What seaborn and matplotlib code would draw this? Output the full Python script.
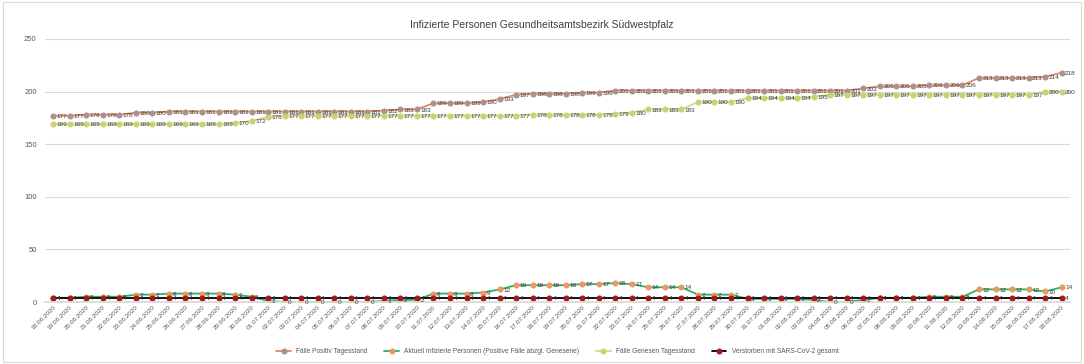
import datetime as dt

import matplotlib
matplotlib.use("Agg")
import matplotlib.pyplot as plt
import pandas as pd
import seaborn as sns

# --- data (18.06.2020 - 18.08.2020) ---
start = dt.date(2020, 6, 18)
dates = [(start + dt.timedelta(days=i)).strftime("%d.%m.%Y") for i in range(62)]

positiv = [177, 177, 178, 178, 178, 180, 180,
           181, 181, 181, 181, 181, 181, 181, 181, 181, 181, 181, 181, 181,
           182, 183, 183, 189, 189, 189, 190, 193, 197, 198, 198, 198, 199, 199,
           201, 201, 201, 201, 201, 201, 201, 201, 201, 201, 201, 201, 201, 201, 201,
           203, 205, 205, 205, 206, 206, 206, 213, 213, 213, 213, 214, 218]

aktuell = [4, 4, 5, 5, 5, 7, 7, 8, 8, 8, 8, 7, 5, 1,
           0, 0, 0, 0, 0, 0, 1, 2, 2, 8, 8, 8, 9, 12, 16, 16, 16, 16, 17, 17,
           18, 17, 14, 14, 14, 7, 7, 7, 3, 3, 3, 3, 2, 0, 0,
           2, 4, 4, 4, 5, 5, 5, 12, 12, 12, 12, 10, 14]

genesen = [169, 169, 169, 169, 169, 169, 169, 169, 169, 169, 169, 170, 172, 176,
           177, 177, 177, 177, 177, 177, 177, 177, 177, 177, 177, 177, 177, 177, 177,
           178, 178, 178, 178, 178, 179, 180, 183, 183, 183, 190, 190, 190,
           194, 194, 194, 194, 195,
           197, 197, 197, 197, 197, 197, 197, 197, 197, 197, 197, 197, 197, 200, 200]

verstorben = [4] * 62

series_names = ["Fälle Positiv Tagesstand",
                "Aktuell Infizierte Personen (Positive Fälle abzgl. Genesene)",
                "Fälle Genesen Tagesstand",
                "Verstorben mit SARS-CoV-2 gesamt"]
series_values = [positiv, aktuell, genesen, verstorben]

line_colors = ["#E58A5A", "#2FAE6E", "#CBDB8E", "#000000"]
marker_colors = ["#A8918F", "#EA9A5C", "#C8D36C", "#A11A1A"]

sns.set_theme(style="white")
plt.rcParams["font.family"] = ["Liberation Sans Narrow", "Liberation Sans", "DejaVu Sans"]

fig = plt.figure(figsize=(10.84, 3.64), dpi=100)
ax = fig.add_axes([0.0415, 0.1703, 0.9455, 0.7227])

for name, vals, lc, mc in zip(series_names, series_values, line_colors, marker_colors):
    df = pd.DataFrame({"x": range(len(dates)), "y": vals})
    sns.lineplot(data=df, x="x", y="y", ax=ax, color=lc, linewidth=1.3,
                 marker="o", markersize=3.6, markerfacecolor=mc,
                 markeredgecolor=mc, label=name)
    for i, v in enumerate(vals):
        ax.annotate(str(v), (i, v), xytext=(2.5, -0.5), textcoords="offset points",
                    fontsize=4.6, color="#3A3A3A", va="center", ha="left")

ax.set_xlim(-0.5, len(dates) - 0.5)
ax.set_ylim(0, 250)
ax.set_yticks(range(0, 251, 50))
ax.set_xticks(range(len(dates)))
ax.set_xticklabels(dates, rotation=45, ha="right", rotation_mode="anchor",
                   fontsize=4.6, color="#595959")
ax.tick_params(axis="y", labelsize=5.5, labelcolor="#595959", length=0, pad=6)
ax.tick_params(axis="x", length=0, pad=2)
ax.set_xlabel("")
ax.set_ylabel("")
ax.grid(axis="y", color="#D9D9D9", linewidth=0.8)
ax.grid(axis="x", visible=False)
for side in ["top", "right", "left"]:
    ax.spines[side].set_visible(False)
ax.spines["bottom"].set_color("#D9D9D9")
ax.set_axisbelow(True)

fig.suptitle("Infizierte Personen Gesundheitsamtsbezirk Südwestpfalz",
             y=0.945, fontsize=7.5, color="#404040")

ax.legend(loc="center", bbox_to_anchor=(0.5, -0.19), ncol=4, frameon=False,
          fontsize=4.8, labelcolor="#595959", handlelength=2.2, columnspacing=2.5)

# chart-area frame
fig.patches.append(plt.Rectangle((0.003, 0.005), 0.994, 0.99, transform=fig.transFigure,
                                 fill=False, edgecolor="#D9D9D9", linewidth=0.8))

fig.savefig("out.png", dpi=100)
